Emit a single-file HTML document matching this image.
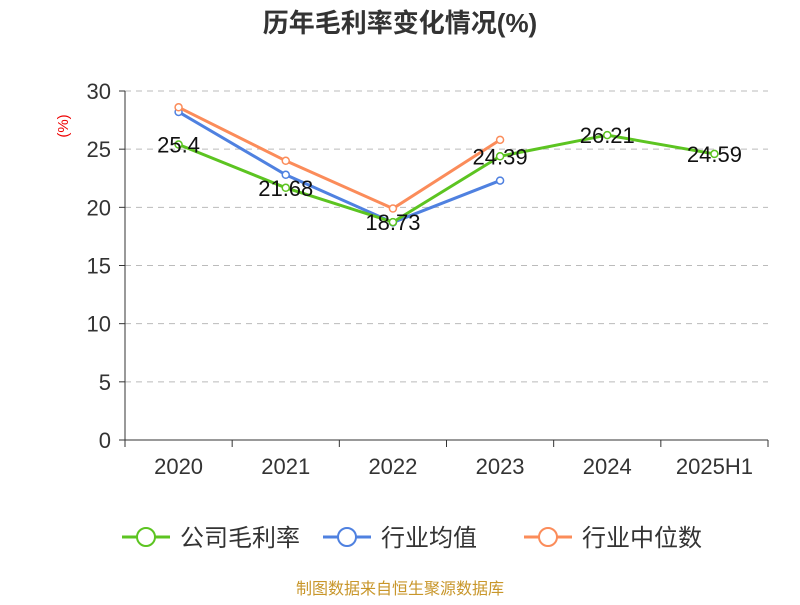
<!DOCTYPE html>
<html><head><meta charset="utf-8"><style>
body{margin:0;background:#fff;width:800px;height:600px;overflow:hidden;font-family:"Liberation Sans","Noto Sans CJK SC",sans-serif}
</style></head><body>
<svg id="c" width="800" height="600" font-family="Liberation Sans, Noto Sans CJK SC, sans-serif">
<text x="400" y="32" text-anchor="middle" font-size="26" font-weight="bold" fill="#333">历年毛利率变化情况(%)</text>
<text transform="translate(68,126) rotate(-90)" text-anchor="middle" font-size="15" fill="#e00">(%)</text>
<g id="grid"></g><g id="axes"></g><g id="series"></g><g id="legend"></g>
<text x="400" y="594" text-anchor="middle" font-size="16" fill="#c8962a">制图数据来自恒生聚源数据库</text>
</svg>
<script>
const categories=["2020","2021","2022","2023","2024","2025H1"];
const yTicks=[0,5,10,15,20,25,30];
const companyVals=[25.4,21.68,18.73,24.39,26.21,24.59];
const industryAvg=[28.2,22.8,18.7,22.3];
const industryMedian=[28.6,24.0,19.9,25.8];
const NS="http://www.w3.org/2000/svg";
const L=125,R=768,T=91,B=440;
const bw=(R-L)/categories.length;
const x=i=>L+bw*(i+0.5);
const y=v=>B-(v/30)*(B-T);
function mk(p,tag,a){const e=document.createElementNS(NS,tag);for(const k in a)e.setAttribute(k,a[k]);p.appendChild(e);return e;}
const g=document.getElementById('grid'),ax=document.getElementById('axes'),s=document.getElementById('series'),lg=document.getElementById('legend');
yTicks.forEach(t=>{
 if(t>0){const l=mk(g,'line',{x1:L,x2:R,y1:y(t),y2:y(t),stroke:'#bbb','stroke-dasharray':'6,5'});
 
 }
 const tk=mk(ax,'line',{x1:L-6,x2:L,y1:y(t),y2:y(t),stroke:'#333'});
 
 
 const tx=mk(ax,'text',{x:L-14,y:y(t)+8,'text-anchor':'end','font-size':22,fill:'#333'});tx.textContent=t;
 
 
});
const ya=mk(ax,'line',{x1:L,x2:L,y1:T,y2:B,stroke:'#333'});


const xa=mk(ax,'line',{x1:L,x2:R,y1:B,y2:B,stroke:'#333'});


for(let i=0;i<=categories.length;i++){const tk=mk(ax,'line',{x1:L+bw*i,x2:L+bw*i,y1:B,y2:B+7,stroke:'#333'});
 
 }
categories.forEach((c,i)=>{const t=mk(ax,'text',{x:x(i),y:B+34,'text-anchor':'middle','font-size':22,fill:'#333'});t.textContent=c;
 
 });
function series(vals,color,name,labels){
 const pl=mk(s,'polyline',{points:vals.map((v,i)=>x(i)+','+y(v)).join(' '),fill:'none',stroke:color,'stroke-width':3});
 
 
 vals.forEach((v,i)=>{const c=mk(s,'circle',{cx:x(i),cy:y(v),r:3.5,fill:'#fff',stroke:color,'stroke-width':1.5});
  
  
  if(labels){const t=mk(s,'text',{x:x(i),y:y(v)+8,'text-anchor':'middle','font-size':22,fill:'#111'});t.textContent=v;
   
   }});
}
series(industryAvg,'#4f81e0','industry-average',false);
series(industryMedian,'#fb8c5a','industry-median',false);
series(companyVals,'#5cc421','company',true);
[["公司毛利率","#5cc421",122],["行业均值","#4f81e0",323],["行业中位数","#fb8c5a",524]].forEach(([n,c,lx])=>{
 const gg=mk(lg,'g',{});
 
 
 mk(gg,'line',{x1:lx,x2:lx+48,y1:537,y2:537,stroke:c,'stroke-width':3});
 mk(gg,'circle',{cx:lx+24,cy:537,r:9,fill:'#fff',stroke:c,'stroke-width':2});
 const t=mk(gg,'text',{x:lx+58,y:546,'font-size':24,fill:'#333'});t.textContent=n;
});
</script>
</body></html>
